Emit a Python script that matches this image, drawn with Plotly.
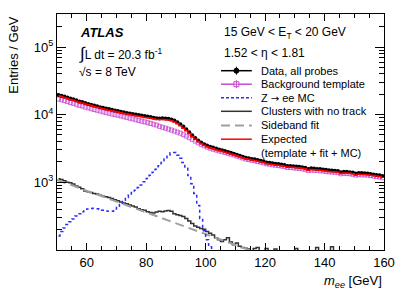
import plotly.graph_objects as go

# ---------------- data (1 GeV bins, 50-160 GeV) ----------------
bin_low = list(range(50, 160))
bin_centre = [b + 0.5 for b in bin_low]

data_all = [19600, 19100, 18500, 17900, 17300, 16900, 16300, 15700, 15400, 14800,
            14400, 14000, 13600, 13300, 12900, 12600, 12300, 12100, 11800, 11500,
            11300, 11050, 10800, 10600, 10400, 10200, 10050, 9850, 9700, 9500,
            9350, 9200, 9000, 8850, 8750, 8800, 8750, 8650, 8450, 8150,
            7700, 7200, 6650, 6050, 5500, 4950, 4500, 4150, 3850, 3650,
            3480, 3350, 3250, 3150, 3050, 2960, 2880, 2800, 2720, 2640,
            2540, 2460, 2380, 2300, 2260, 2210, 2180, 2120, 2080, 2030,
            1960, 1930, 1900, 1870, 1850, 1820, 1790, 1740, 1740, 1720,
            1700, 1690, 1660, 1640, 1560, 1600, 1590, 1570, 1560, 1540,
            1520, 1500, 1490, 1480, 1460, 1400, 1430, 1420, 1400, 1390,
            1340, 1370, 1360, 1350, 1340, 1320, 1300, 1280, 1260, 1230]

template = [17000, 16600, 16100, 15600, 15100, 14700, 14200, 13700, 13400, 12900,
            12600, 12200, 11900, 11600, 11300, 11000, 10700, 10500, 10200, 10000,
            9800, 9550, 9300, 9100, 8850, 8650, 8400, 8200, 8000, 7800,
            7600, 7400, 7200, 7000, 6700, 6500, 6300, 6100, 5900, 5700,
            5500, 5300, 5050, 4800, 4550, 4300, 4050, 3820, 3620, 3450,
            3300, 3180, 3080, 2990, 2900, 2820, 2750, 2680, 2600, 2520,
            2430, 2360, 2280, 2200, 2160, 2110, 2080, 2020, 1980, 1930,
            1870, 1840, 1810, 1780, 1760, 1730, 1700, 1650, 1650, 1630,
            1610, 1600, 1570, 1550, 1480, 1510, 1500, 1490, 1470, 1460,
            1440, 1420, 1410, 1400, 1380, 1330, 1350, 1340, 1330, 1310,
            1270, 1290, 1280, 1280, 1270, 1250, 1230, 1210, 1190, 1160]

expected = [19000, 18500, 17900, 17400, 16800, 16300, 15800, 15300, 14900, 14400,
            14000, 13600, 13200, 12900, 12500, 12200, 11900, 11650, 11400, 11100,
            10900, 10650, 10400, 10200, 10000, 9800, 9650, 9450, 9300, 9100,
            8950, 8800, 8650, 8500, 8450, 8450, 8400, 8300, 8100, 7800,
            7350, 6850, 6300, 5780, 5250, 4720, 4320, 3990, 3720, 3530,
            3350, 3230, 3130, 3030, 2940, 2860, 2780, 2700, 2620, 2540,
            2450, 2380, 2300, 2220, 2180, 2130, 2100, 2040, 2000, 1950,
            1890, 1860, 1830, 1800, 1780, 1750, 1720, 1680, 1680, 1660,
            1640, 1630, 1600, 1580, 1500, 1540, 1530, 1510, 1500, 1480,
            1460, 1440, 1430, 1420, 1400, 1340, 1370, 1360, 1350, 1330,
            1280, 1310, 1300, 1300, 1290, 1270, 1250, 1230, 1210, 1170]

zee_mc = [160, 185, 210, 235, 258, 285, 315, 340, 365, 385,
          400, 408, 410, 405, 395, 385, 375, 370, 372, 400,
          440, 490, 540, 590, 650, 700, 760, 830, 910, 1010,
          1130, 1260, 1400, 1550, 1750, 1950, 2200, 2500, 2720, 2750,
          2500, 2250, 1950, 1600, 1250, 950, 680, 450, 290, 190,
          140, 110, 85, 60, 40]

no_track = [1120, 1090, 1050, 1000, 980, 940, 880, 840, 800, 740,
            720, 700, 680, 670, 640, 620, 610, 590, 570, 550,
            530, 510, 490, 480, 460, 445, 430, 405, 390, 385,
            365, 355, 350, 360, 370, 365, 375, 380, 370, 340,
            330, 320, 310, 290, 265, 245, 225, 215, 205, 200,
            185, 175, 165, 150, 140, 132, 140, 150, 130, 118,
            125, 112, 108, 105, 102, 96, 104, 108, 95, 92,
            104, 90, 88, 102, 86, 85, 84, 83, 96, 82,
            104, 80, 79, 78, 77, 77, 76, 108, 75, 74,
            73, 72, 110, 72, 71, 70, 69, 68, 68, 67,
            67, 66, 66, 65, 65, 64, 64, 63, 63, 62]

fit_mass = [50, 60, 70, 80, 90, 100, 110, 120, 130]
fit_vals = [1080, 745, 515, 355, 245, 170, 117, 81, 56]

# ---------------- figure ----------------
FONT = "Liberation Sans, Arial, Helvetica, sans-serif"
BLACK = "#000000"
MAGENTA = "#c848d0"
BLUE = "#2b2bff"
DARK = "#333333"
GREY = "#a0a0a0"
RED = "#ff0000"

fig = go.Figure()

fig.add_trace(go.Scatter(x=bin_centre, y=no_track, mode="lines", line_shape="hvh",
                         line=dict(color=DARK, width=1.5), showlegend=False))
fig.add_trace(go.Scatter(x=fit_mass, y=fit_vals, mode="lines",
                         line=dict(color=GREY, width=2, dash="9px,5px"), showlegend=False))
fig.add_trace(go.Scatter(x=bin_centre[:len(zee_mc)], y=zee_mc, mode="lines", line_shape="hvh",
                         line=dict(color=BLUE, width=1.5, dash="3px,3px"), showlegend=False))
fig.add_trace(go.Scatter(x=bin_centre, y=template, mode="markers",
                         marker=dict(symbol="square-open", size=4, color=MAGENTA,
                                     line=dict(width=0.8, color=MAGENTA)),
                         showlegend=False))
fig.add_trace(go.Scatter(x=bin_centre, y=data_all, mode="markers",
                         marker=dict(symbol="circle", size=4, color=BLACK),
                         error_x=dict(type="constant", value=0.5, width=0, thickness=1.2, color=BLACK),
                         showlegend=False))
fig.add_trace(go.Scatter(x=bin_centre, y=expected, mode="lines", line_shape="hvh",
                         line=dict(color=RED, width=1.5), showlegend=False))

L, R, T, B = 57, 21, 14, 42
W, H = 407, 292
PW, PH = W - L - R, H - T - B


def px(x):
    return (x - L) / PW


def py(y):
    return (H - B - y) / PH


annotations = []
shapes = []


def text(x, y, s, size=12, xanchor="left", yanchor="middle", **kw):
    annotations.append(dict(x=px(x), y=py(y), xref="paper", yref="paper", text=s,
                            showarrow=False, xanchor=xanchor, yanchor=yanchor,
                            font=dict(family=FONT, size=size, color="black"), **kw))


# Labels on plot
text(78, 32.5, "<b><i>ATLAS</i></b>", size=13)
text(77, 53, "<span style='font-size:17px'>∫</span>L dt = 20.3 fb<sup>-1</sup>", size=12)
text(77, 72, "√s = 8 TeV", size=12)
text(223, 33, "15 GeV &lt; E<sub>T</sub> &lt; 20 GeV", size=12)
text(223, 53, "1.52 &lt; η &lt; 1.81", size=12)

# Legend
rows = [70.7, 84.2, 97.8, 111.3, 125.5, 139.2]
labels = ["Data, all probes", "Background template",
          "Z <span style='font-family:DejaVu Sans;font-size:10px'>→</span> ee MC",
          "Clusters with no track", "Sideband fit", "Expected"]
styles = [dict(color=BLACK, width=1.5), dict(color=MAGENTA, width=1.5),
          dict(color=BLUE, width=1.5, dash="3px,2px"), dict(color=DARK, width=1.5),
          dict(color=GREY, width=2, dash="9px,5px"), dict(color=RED, width=1.5)]
for yy, lab, st in zip(rows, labels, styles):
    shapes.append(dict(type="line", xref="paper", yref="paper", x0=px(222), x1=px(253),
                       y0=py(yy), y1=py(yy), line=st))
    text(260, yy, lab, size=11)
text(260, 152.8, "(template + fit + MC)", size=11)
# markers in legend
shapes.append(dict(type="circle", xref="paper", yref="paper", xsizemode="pixel", ysizemode="pixel",
                   xanchor=px(237.5), yanchor=py(rows[0]), x0=-2.5, x1=2.5, y0=-2.5, y1=2.5,
                   fillcolor=BLACK, line=dict(color=BLACK, width=1)))
shapes.append(dict(type="line", xref="paper", yref="paper", xsizemode="pixel", ysizemode="pixel",
                   xanchor=px(237.5), yanchor=py(rows[0]), x0=0, x1=0, y0=-4, y1=4,
                   line=dict(color=BLACK, width=1)))
shapes.append(dict(type="rect", xref="paper", yref="paper", xsizemode="pixel", ysizemode="pixel",
                   xanchor=px(237.5), yanchor=py(rows[1]), x0=-2.5, x1=2.5, y0=-2.5, y1=2.5,
                   fillcolor="white", line=dict(color=MAGENTA, width=1)))
shapes.append(dict(type="line", xref="paper", yref="paper", xsizemode="pixel", ysizemode="pixel",
                   xanchor=px(237.5), yanchor=py(rows[1]), x0=0, x1=0, y0=-4, y1=4,
                   line=dict(color=MAGENTA, width=1)))
shapes.append(dict(type="line", xref="paper", yref="paper", xsizemode="pixel", ysizemode="pixel",
                   xanchor=px(237.5), yanchor=py(rows[1]), x0=-2.5, x1=2.5, y0=0, y1=0,
                   line=dict(color=MAGENTA, width=1)))

# Axis titles
text(12.5, T, "Entries / GeV", size=13, xanchor="center", yanchor="top", textangle=-90)
text(W - R, 281, "<i>m</i><sub><i>ee</i></sub> [GeV]", size=13, xanchor="right")

x_major = [60, 80, 100, 120, 140, 160]
x_minor = [55, 65, 70, 75, 85, 90, 95, 105, 110, 115, 125, 130, 135, 145, 150, 155]
y_major = [1e3, 1e4, 1e5]
y_major_text = ["10<sup>3</sup>", "10<sup>4</sup>", "10<sup>5</sup>"]
y_minor = [m * 10 ** e for e in (2, 3, 4) for m in range(2, 10)] + [2e5, 3e5]

fig.update_layout(
    width=W, height=H,
    margin=dict(l=L, r=R, t=T, b=B, pad=0),
    paper_bgcolor="white", plot_bgcolor="white",
    font=dict(family=FONT, size=13, color="black"),
    showlegend=False,
    annotations=annotations,
    shapes=shapes,
    xaxis=dict(range=[50, 160], tickvals=x_major, ticks="inside", ticklen=7, tickwidth=1,
               tickcolor="black", showline=True, linecolor="black", linewidth=1,
               mirror="allticks", showgrid=False, zeroline=False,
               tickfont=dict(size=13, family=FONT),
               minor=dict(tickvals=x_minor, ticks="inside", ticklen=4, tickwidth=1,
                          tickcolor="black", showgrid=False)),
    yaxis=dict(type="log", range=[1.995, 5.49], tickvals=y_major, ticktext=y_major_text,
               ticks="inside", ticklen=9, tickwidth=1, tickcolor="black",
               showline=True, linecolor="black", linewidth=1, mirror="allticks",
               showgrid=False, zeroline=False, tickfont=dict(size=13, family=FONT),
               minor=dict(tickvals=y_minor, ticks="inside", ticklen=5, tickwidth=1,
                          tickcolor="black", showgrid=False)),
)

fig.write_html("out.html", config={"displayModeBar": False},
               post_script="document.body.style.margin='0';document.body.style.padding='0';"
                           "document.body.style.overflow='hidden';")
